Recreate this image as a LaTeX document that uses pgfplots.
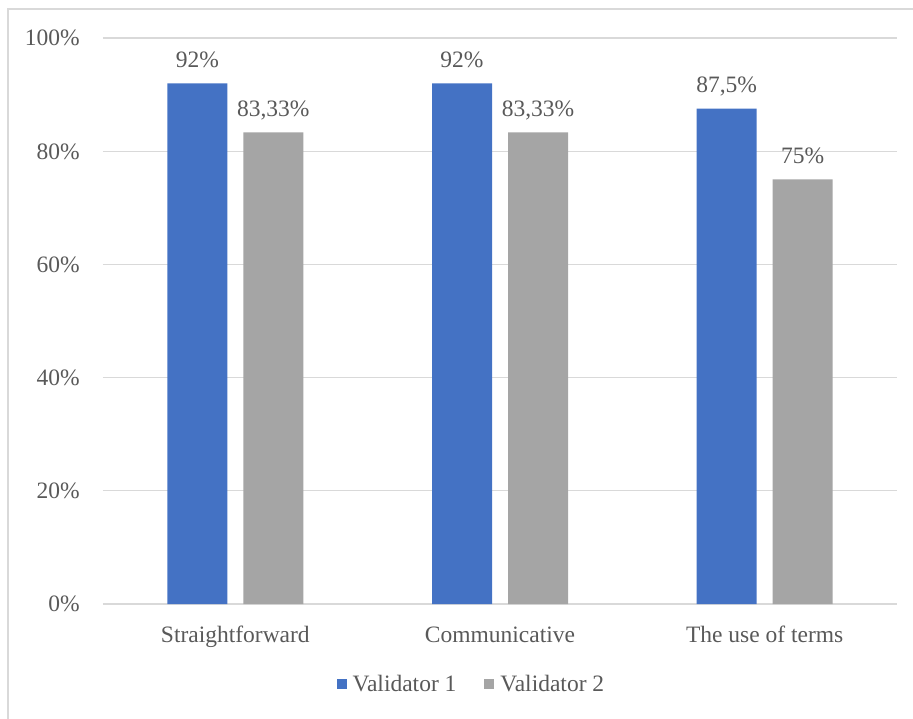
\documentclass[border=0pt]{standalone}
\usepackage{pgfplots}
\pgfplotsset{compat=1.18}
\usepackage{fontspec}
\setmainfont{Liberation Serif}
\definecolor{vblue}{HTML}{4472C4}
\definecolor{vgray}{HTML}{A5A5A5}
\definecolor{txt}{HTML}{595959}
\definecolor{gridc}{HTML}{D9D9D9}
\newcommand\chartfont{\fontsize{23.5}{27}\selectfont}

\begin{document}
\begin{tikzpicture}[font=\chartfont]
\useasboundingbox (0,0) rectangle (913pt,718pt);
% outer chart frame (only left and top edges fall inside the picture)
\draw[gridc, line width=1.3pt] (8pt,-5pt) -- (8pt,709pt) -- (920pt,709pt);
\begin{axis}[
    at={(103pt,114pt)}, anchor=south west,
    scale only axis, width=794pt, height=566pt,
    ybar=16pt, bar width=60pt,
    xmin=-0.5, xmax=2.5, ymin=0, ymax=100,
    xtick={0,1,2},
    xticklabels={Straightforward,Communicative,The use of terms},
    ytick={0,20,...,100},
    yticklabels={0\%,20\%,40\%,60\%,80\%,100\%},
    axis line style={draw=none},
    major tick length=0pt,
    ymajorgrids, grid style={gridc, line width=1.3pt},
    tick label style={text=txt, font=\chartfont, inner sep=0pt},
    xticklabel style={anchor=base, yshift=-38pt},
    yticklabel style={anchor=base east, xshift=-23pt, yshift=-7.9pt},
    point meta=explicit symbolic,
    nodes near coords,
    every node near coord/.append style={text=txt, font=\chartfont, anchor=base, yshift=16pt, inner sep=0pt},
    legend columns=2,
    legend style={at={(0.464,-0.1422)}, anchor=center, draw=none, fill=none,
        inner sep=0pt, font=\chartfont, text=txt,
        /tikz/every odd column/.append style={column sep=4pt},
        /tikz/every even column/.append style={column sep=26pt}},
    legend image code/.code={\fill[#1] (0pt,-5pt) rectangle (10pt,5pt);},
]
\addplot[fill=vblue, draw=none] coordinates {(0,92) [92\%] (1,92) [92\%] (2,87.5) [87,5\%]};
\addlegendentry{Validator 1}
\addplot[fill=vgray, draw=none] coordinates {(0,83.33) [83,33\%] (1,83.33) [83,33\%] (2,75) [75\%]};
\addlegendentry{Validator 2}
\end{axis}
\end{tikzpicture}
\end{document}
